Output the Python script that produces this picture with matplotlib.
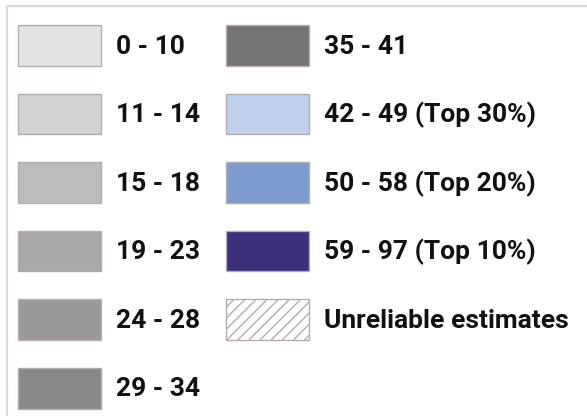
import matplotlib.pyplot as plt
from matplotlib.patches import Patch, Rectangle

plt.rcParams['font.family'] = ['Roboto', 'DejaVu Sans']

labels = ['0 - 10', '11 - 14', '15 - 18', '19 - 23', '24 - 28', '29 - 34',
          '35 - 41', '42 - 49 (Top 30%)', '50 - 58 (Top 20%)',
          '59 - 97 (Top 10%)', 'Unreliable estimates']
colors = ['#e3e3e3', '#d3d2d3', '#bdbcbd', '#aaa8a8', '#9b9998', '#898888',
          '#767473', '#c0d0ec', '#7f9ccf', '#3b2e7a', '#ffffff']
hatches = [None] * 10 + ['///']

W, H = 587, 416
fig = plt.figure(figsize=(W / 100, H / 100), dpi=100)
fig.patch.set_facecolor('white')

# outer frame, open at the bottom and right (cropped)
fig.patches.append(Rectangle((7 / W, -0.1), 1.2, 1 - 6 / H + 0.1,
                             transform=fig.transFigure, fill=False,
                             edgecolor='#d8d8d8', linewidth=1.6))

plt.rcParams['hatch.color'] = '#6e6868'
plt.rcParams['hatch.linewidth'] = 1.0
handles = [Patch(facecolor=c, edgecolor='#b5adad', linewidth=1.0, hatch=h)
           for c, h in zip(colors, hatches)]

fs = 19
leg = fig.legend(handles, labels, ncol=2, loc='upper left',
                 bbox_to_anchor=(18 / W, 1 - 25 / H),
                 frameon=False, borderpad=0, borderaxespad=0,
                 prop={'family': ['Roboto', 'DejaVu Sans'], 'weight': 'bold', 'size': fs},
                 handlelength=3.14, handleheight=2.01, handletextpad=0.57,
                 labelspacing=1.045, columnspacing=1.0)
for t in leg.get_texts():
    t.set_color('#111111')

fig.savefig('out.png', dpi=100, facecolor='white')
